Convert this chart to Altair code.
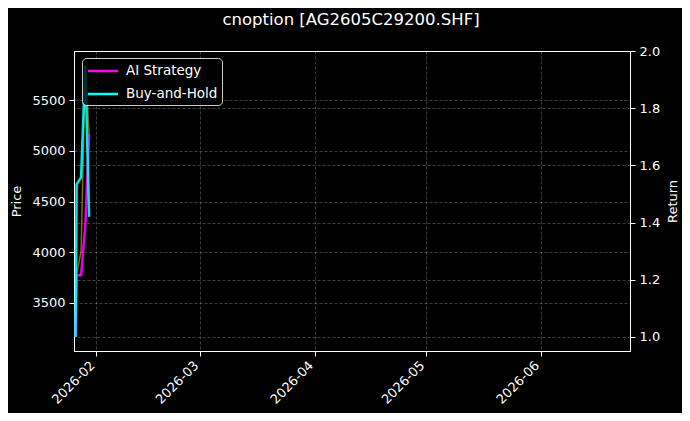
import altair as alt
import pandas as pd

# ---- data ----
dates = ["2026-01-26T09:00:00", "2026-01-26T16:00:00", "2026-01-27T21:00:00",
         "2026-01-29T00:00:00", "2026-01-30T01:00:00"]
price = [3160, 3780, 4010, 5850, 5150]
ai_strategy = [1.0, 1.216, 1.216, 1.387, 1.709]
buy_hold = [1.0, 1.534, 1.558, 1.95, 1.42]

series_names = ["AI Strategy", "Buy-and-Hold"]
series_colors = ["#ff00ff", "#00ffff"]

month_ticks = ["2026-02-01", "2026-03-01", "2026-04-01", "2026-05-01", "2026-06-01"]
price_ticks = [3500, 4000, 4500, 5000, 5500]
return_ticks = [1.0, 1.2, 1.4, 1.6, 1.8, 2.0]

x_domain = ["2026-01-25T23:00:00", "2026-06-25T02:00:00"]
price_domain = [3025, 5985]
return_domain = [0.951, 2.0]

chart_title = ["cnoption [AG2605C29200.SHF]"]

W, H = 556, 300


def to_dt(s):
    t = pd.Timestamp(s)
    return alt.DateTime(year=t.year, month=t.month, date=t.day,
                        hours=t.hour, minutes=t.minute)


df_price = pd.DataFrame({"date": dates, "price": price})
rows = []
for name, vals in zip(series_names, [ai_strategy, buy_hold]):
    for d, v in zip(dates, vals):
        rows.append({"date": d, "value": v, "series": name})
df_ret = pd.DataFrame(rows)
df_title = pd.DataFrame({"t": chart_title})

grid_kw = dict(grid=True, gridColor="#ffffff", gridOpacity=0.3,
               gridDash=[3, 2], gridWidth=0.8)

x_enc = alt.X(
    "date:T",
    scale=alt.Scale(domain=[to_dt(x_domain[0]), to_dt(x_domain[1])]),
    axis=alt.Axis(values=[to_dt(m) for m in month_ticks], format="%Y-%m",
                  labelAngle=-45, labelAlign="right", labelBaseline="middle",
                  labelPadding=7, labelOffset=-4,
                  title=None, **grid_kw),
)

price_line = alt.Chart(df_price).mark_line(
    color="#ffd700", opacity=0.5, strokeWidth=1.5
).encode(
    x=x_enc,
    y=alt.Y("price:Q",
            scale=alt.Scale(domain=price_domain, nice=False, zero=False),
            axis=alt.Axis(orient="left", values=price_ticks, format="d",
                          title="Price", titlePadding=8, **grid_kw)),
)

ret_lines = alt.Chart(df_ret).mark_line(strokeWidth=2.5, opacity=0.9).encode(
    x=alt.X("date:T"),
    y=alt.Y("value:Q",
            scale=alt.Scale(domain=return_domain, nice=False, zero=False),
            axis=alt.Axis(orient="right", values=return_ticks, format=".1f",
                          title="Return", titleAngle=270,
                          titleBaseline="middle", titleAlign="center",
                          titleX=42, titleY=H / 2, **grid_kw)),
    color=alt.Color(
        "series:N",
        scale=alt.Scale(domain=series_names, range=series_colors),
        legend=alt.Legend(
            title=None, orient="none", legendX=8, legendY=7,
            fillColor="rgba(0,0,0,0.8)", strokeColor="rgba(255,255,255,0.8)",
            cornerRadius=4, padding=4, rowPadding=7,
            symbolType="M-2,0L2,0", symbolSize=225, symbolStrokeWidth=2.5,
            symbolOffset=8, symbolOpacity=1, labelOffset=14,
            labelColor="#ffffff", labelFontSize=13.5, labelFont="DejaVu Sans",
        ),
    ),
)

title_text = alt.Chart(df_title).mark_text(
    color="#ffffff", font="DejaVu Sans", fontSize=16.5, align="center",
    baseline="alphabetic"
).encode(
    text="t:N",
    x=alt.value(W / 2 - 1),
    y=alt.value(-26),
)

chart = alt.layer(price_line, ret_lines, title_text).resolve_scale(
    y="independent"
).properties(
    width=W,
    height=H,
    autosize=alt.AutoSizeParams(type="none"),
    padding={"left": 66, "top": 43, "right": 52, "bottom": 62},
    background="#000000",
).configure_view(
    stroke="#ffffff", strokeWidth=1
).configure_axis(
    domainColor="#ffffff", tickColor="#ffffff", labelColor="#ffffff",
    titleColor="#ffffff", labelFont="DejaVu Sans", titleFont="DejaVu Sans",
    labelFontSize=13, titleFontSize=13, titleFontWeight="normal",
    tickSize=5, labelPadding=4,
)

chart.save("out.html", embed_options={"renderer": "svg", "actions": False})
